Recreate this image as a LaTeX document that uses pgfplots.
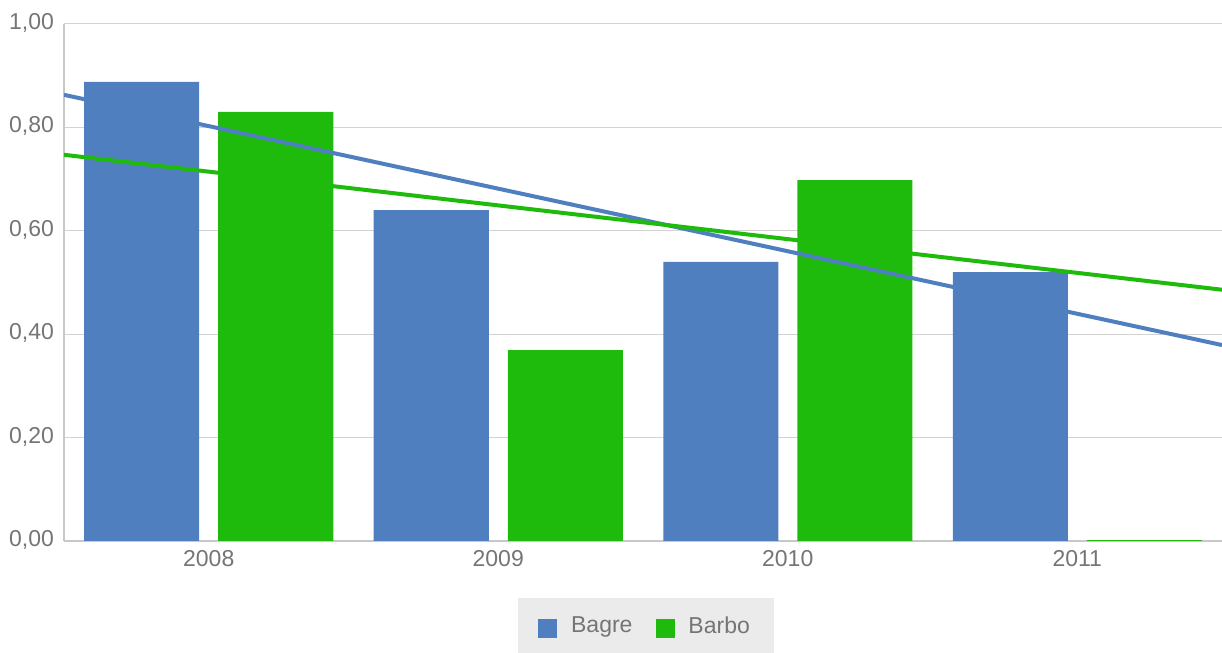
\documentclass[border=0pt]{standalone}
\usepackage{pgfplots}
\pgfplotsset{compat=1.18}
\usepackage{fontspec}
\setmainfont{Liberation Sans}
\definecolor{bagre}{HTML}{4F7FBE}
\definecolor{barbo}{HTML}{1FBB0C}
\definecolor{txt}{HTML}{757575}
\definecolor{gridc}{HTML}{D3D3D3}
\definecolor{axc}{HTML}{C8C8C8}
\definecolor{legbg}{HTML}{EBEBEB}
\begin{document}
\begin{tikzpicture}
\begin{axis}[
  scale only axis,
  width=579pt, height=258.5pt,
  xmin=-0.5, xmax=3.5, ymin=0, ymax=1,
  axis x line=bottom, axis y line=left,
  axis line style={axc, line width=1pt, -},
  xtick={0,1,2,3}, xticklabels={2008,2009,2010,2011},
  ytick={0,0.2,0.4,0.6,0.8,1.0},
  major tick length=0pt,
  ymajorgrids, grid style={gridc, line width=0.5pt},
  tick label style={font=\fontsize{11.5}{13}\selectfont, text=txt},
  yticklabel style={xshift=-1.5pt, yshift=0.5pt},
  xticklabel style={yshift=-1pt},
  /pgf/number format/assume math mode=true,
  yticklabel={\pgfmathprintnumber[fixed, fixed zerofill, precision=2, use comma]{\tick}},
  legend style={at={(0.5,0)}, anchor=north, yshift=-28.5pt, xshift=1.5pt, fill=legbg, draw=none,
    font=\fontsize{11.5}{13}\selectfont, text=txt, legend columns=2,
    inner xsep=10pt, inner ysep=7pt,
    nodes={inner sep=2pt},
    /tikz/every odd column/.append style={column sep=5pt},
    /tikz/every even column/.append style={column sep=9.5pt}},
  legend cell align=left,
]
\coordinate (sw) at (rel axis cs:0,0);
\coordinate (ne) at (rel axis cs:1,1);
\addplot[ybar, bar width=57.5pt, bar shift=-33.5pt, fill=bagre, draw=none,
  legend image code/.code={\fill[bagre] (0pt,-6pt) rectangle (9.5pt,3.5pt);}]
  coordinates {(0,0.888) (1,0.640) (2,0.540) (3,0.520)};
\addlegendentry{Bagre}
\addplot[ybar, bar width=57.5pt, bar shift=33.5pt, fill=barbo, draw=none,
  legend image code/.code={\fill[barbo] (0pt,-6pt) rectangle (9.5pt,3.5pt);}]
  coordinates {(0,0.830) (1,0.369) (2,0.698)};
\addlegendentry{Barbo}
\addplot[ybar, bar width=57.5pt, bar shift=33.5pt, draw=barbo, line width=0.6pt, forget plot]
  coordinates {(3,0)};
\addplot[bagre, line width=2pt, forget plot] coordinates {(-0.5,0.863) (3.5,0.379)};
\addplot[barbo, line width=2pt, forget plot] coordinates {(-0.5,0.747) (3.5,0.486)};
\end{axis}
\pgfresetboundingbox
\path[use as bounding box] ([xshift=-32pt,yshift=-56pt]sw) rectangle ([yshift=12pt]ne);
\end{tikzpicture}
\end{document}
